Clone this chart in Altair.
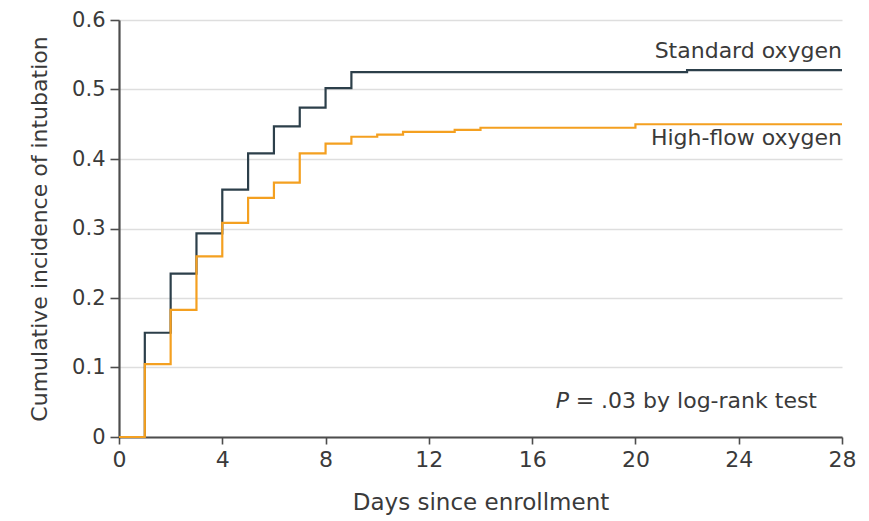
import altair as alt
import pandas as pd

# Kaplan-Meier style cumulative incidence (step after)
std_days = [0, 1, 2, 3, 4, 5, 6, 7, 8, 9, 22, 28]
std_vals = [0, 0.150, 0.235, 0.293, 0.356, 0.408, 0.447, 0.474, 0.502, 0.525, 0.528, 0.528]

hf_days = [0, 1, 2, 3, 4, 5, 6, 7, 8, 9, 10, 11, 13, 14, 20, 28]
hf_vals = [0, 0.105, 0.183, 0.260, 0.308, 0.344, 0.366, 0.408, 0.422, 0.432, 0.435, 0.439, 0.442, 0.445, 0.450, 0.450]

groups = ["Standard oxygen", "High-flow oxygen"]
colors = ["#2c3f4a", "#f4a020"]
x_ticks = [0, 4, 8, 12, 16, 20, 24, 28]
y_ticks = [0, 0.1, 0.2, 0.3, 0.4, 0.5, 0.6]

df = pd.concat([
    pd.DataFrame({"day": std_days, "inc": std_vals, "group": groups[0]}),
    pd.DataFrame({"day": hf_days, "inc": hf_vals, "group": groups[1]}),
])

FONT = "DejaVu Sans"
TXT = "#3a3a3a"

x_scale = alt.Scale(domain=[0, 28], nice=False, zero=True)
y_scale = alt.Scale(domain=[0, 0.6], nice=False)

lines = alt.Chart(df).mark_line(interpolate="step-after", strokeWidth=2.2).encode(
    x=alt.X("day:Q", scale=x_scale,
            axis=alt.Axis(title="Days since enrollment", values=x_ticks, grid=False,
                          titlePadding=21, titleFontSize=23, labelFontSize=22,
                          labelFlush=False)),
    y=alt.Y("inc:Q", scale=y_scale,
            axis=alt.Axis(title="Cumulative incidence of intubation", values=y_ticks,
                          labelExpr="datum.value == 0 ? '0' : format(datum.value, '.1f')",
                          grid=True, titlePadding=20, titleFontSize=22, labelFontSize=21,
                          labelPadding=5, tickSize=9, labelFlush=False)),
    color=alt.Color("group:N", scale=alt.Scale(domain=groups, range=colors), legend=None),
)

last = pd.DataFrame({
    "day": [std_days[-1], hf_days[-1]],
    "inc": [std_vals[-1], hf_vals[-1]],
    "group": groups,
})

lab_std = alt.Chart(last[last.group == groups[0]]).mark_text(
    align="right", baseline="alphabetic", dy=-12, fontSize=22, font=FONT, color=TXT
).encode(x=alt.X("day:Q", scale=x_scale), y=alt.Y("inc:Q", scale=y_scale), text="group:N")

lab_hf = alt.Chart(last[last.group == groups[1]]).mark_text(
    align="right", baseline="alphabetic", dy=21, fontSize=22, font=FONT, color=TXT
).encode(x=alt.X("day:Q", scale=x_scale), y=alt.Y("inc:Q", scale=y_scale), text="group:N")

ptext = pd.DataFrame({"day": [28], "inc": [0], "a": ["P"], "b": ["= .03 by log-rank test"]})
p_rest = alt.Chart(ptext).mark_text(
    align="right", baseline="alphabetic", dx=-25, dy=-29, fontSize=22, font=FONT, color=TXT
).encode(x=alt.X("day:Q", scale=x_scale), y=alt.Y("inc:Q", scale=y_scale), text="b:N")
p_ital = alt.Chart(ptext).mark_text(
    align="right", baseline="alphabetic", dx=-273, dy=-29, fontSize=22, font=FONT,
    fontStyle="italic", color=TXT
).encode(x=alt.X("day:Q", scale=x_scale), y=alt.Y("inc:Q", scale=y_scale), text="a:N")

chart = alt.layer(lines, lab_std, lab_hf, p_rest, p_ital).properties(
    width=723, height=417,
    autosize=alt.AutoSizeParams(type="none"),
    padding={"left": 111, "top": 12, "right": 19, "bottom": 84},
).configure_view(stroke=None).configure_axis(
    labelFont=FONT, titleFont=FONT,
    labelColor=TXT, titleColor=TXT, titleFontWeight="normal",
    domainColor="#4d4d4d", domainWidth=2.2, tickColor="#4d4d4d", tickWidth=1.6,
    tickSize=7, gridColor="#dedede", gridWidth=1.6, labelPadding=4,
).configure_axisX(labelPadding=5)

chart.save("out.html", embed_options={"renderer": "svg", "actions": False})
